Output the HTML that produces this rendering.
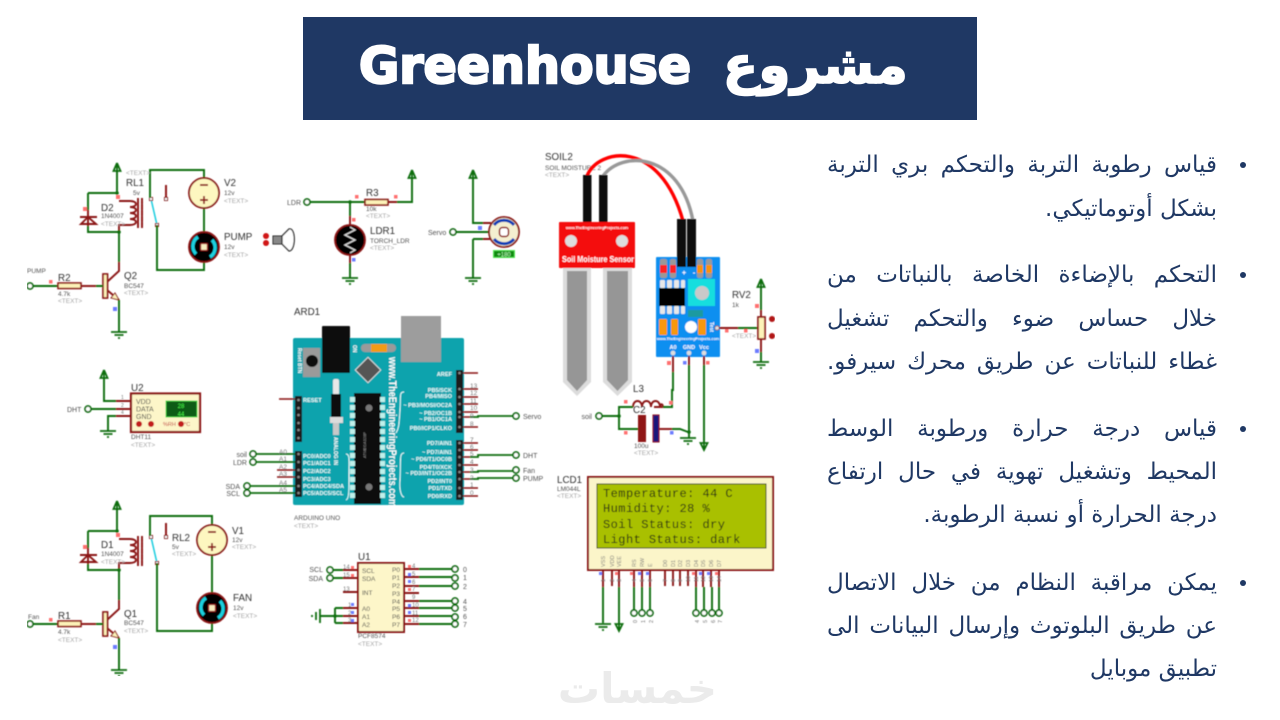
<!DOCTYPE html>
<html lang="ar"><head><meta charset="utf-8"><title>Greenhouse</title>
<style>
html,body{margin:0;padding:0;background:#fff;width:1280px;height:720px;overflow:hidden}
#w{position:relative;width:1280px;height:720px;overflow:hidden}
svg{position:absolute;left:0;top:0}
.l{position:absolute;left:827px;width:390px;height:30px;font:23px/30px "DejaVu Sans",sans-serif;color:#1f3864;direction:rtl;white-space:nowrap;text-align:justify;text-align-last:justify}
.e{text-align:right;text-align-last:right}
.b{position:absolute;left:1240px;width:6px;height:6px;border-radius:3px;background:#1f3864}
text{font-family:"Liberation Sans",sans-serif}
.g{stroke:#0b6e10;stroke-width:1.9;fill:none}
.r{stroke:#8b1414;stroke-width:1.9;fill:none}
.t12{font-size:9.8px;fill:#333}
.t7{font-size:6.5px;fill:#555}
.tx{font-size:6.5px;fill:#a5a5a5}
.gr{font-size:7px;fill:#555}
.w{font-size:5.6px;font-weight:bold;fill:#eafcfc}
.n{font-size:6.5px;fill:#777}
</style></head><body><div id="w">
<svg width="1280" height="720" viewBox="0 0 1280 720" xmlns="http://www.w3.org/2000/svg">
<defs>
<filter id="bl" x="0" y="0" width="100%" height="100%"><feGaussianBlur stdDeviation="0.45"/></filter>
<g id="gnd"><path d="M-8 0H8M-4.5 3H4.5M-1 6H1" stroke="#0b6e10" stroke-width="1.800" fill="none"/></g>
<path id="up" d="M0 8V0L-3.5 8H3.5L0 0" stroke="#0b6e10" stroke-width="1.800" fill="none"/>
<circle id="tm" r="3" fill="#fff" stroke="#0b6e10" stroke-width="1.700"/>
<g id="res"><rect x="0" y="0" width="23" height="5.5" fill="#fdf3b8" stroke="#8b1414" stroke-width="1.600"/></g>
<g id="relay">
<path class="g" d="M117 170V193M88 193H117M88 193V210M88 226V232H119V262"/>
<path class="r" d="M88 210V226M80 217H97M88 217L81 224H96Z" fill="#fdf3b8"/>
<path class="r" d="M119 201H130M119 232V225H130M130 201c8 0 8 6 0 6c8 0 8 6 0 6c8 0 8 6 0 6c8 0 8 6 0 6M138 198V228M142 198V228"/>
<rect x="116" y="195" width="4" height="4" fill="#ff7070"/><rect x="83" y="207" width="4" height="4" fill="#ff7070"/>
<circle cx="117" cy="193" r="1.800" fill="#0b6e10"/><circle cx="119" cy="232" r="1.800" fill="#0b6e10"/>
<path d="M151 199L157 225" stroke="#22cfe0" stroke-width="1.600"/>
<path class="r" d="M166 197V185"/>
<rect x="149.500" y="197.500" width="3" height="3" fill="#fff" stroke="#8b1414"/><rect x="164.500" y="197.500" width="3" height="3" fill="#fff" stroke="#8b1414"/><rect x="155.500" y="223.500" width="3" height="3" fill="#fff" stroke="#8b1414"/>
<path class="r" d="M119 262V271L107 282M107 290L119 300"/>
<path d="M119 300L111 298L115 293Z" fill="#fdf3b8" stroke="#8b1414"/>
<rect x="103" y="274" width="4.500" height="24" fill="#fdf3b8" stroke="#8b1414" stroke-width="1.700"/>
<path class="g" d="M33 286H58M119 300V332M96 286H103"/>
<path class="r" d="M81 286H96"/>
<use href="#tm" x="30" y="286"/>
<use href="#res" x="58" y="283"/>
<rect x="49" y="280" width="3.500" height="3.500" fill="#ff7070"/>
<rect x="113" y="307" width="4" height="4" fill="#6c7cff"/>
<use href="#gnd" x="119" y="332"/>
</g>
<g id="mot"><circle r="15" fill="#000" stroke="#8b1414" stroke-width="1.800"/><path d="M-6 -10A11 11 0 0 0 -8 7M6 10A11 11 0 0 0 8 -7" stroke="#1fd0df" stroke-width="3.400" fill="none"/><rect x="-3.500" y="-3.500" width="7" height="7" rx="1" fill="#f7eec0" stroke="#8b1414" stroke-width="1.300"/></g>
<g id="bat"><circle r="15" fill="#fdf7c0" stroke="#8b1414" stroke-width="1.800"/><path d="M-4 -8H4M-4 7H4M0 3V11" stroke="#8b1414" stroke-width="1.700"/></g>
</defs>

<rect x="303" y="17" width="674" height="103" fill="#1f3864"/>
<text x="359" y="83" font-size="50" textLength="332" lengthAdjust="spacingAndGlyphs" style="font-family:'DejaVu Sans',sans-serif;font-weight:bold" fill="#fff" stroke="#fff" stroke-width="2.400">Greenhouse</text>
<text x="908" y="83" font-size="52" direction="rtl" style="font-family:'DejaVu Sans',sans-serif;font-weight:bold" fill="#fff" stroke="#fff" stroke-width="1.500">مشروع</text>
<text x="717" y="703" font-size="42" direction="rtl" style="font-family:'DejaVu Sans',sans-serif;font-weight:bold" fill="#ebebeb">خمسات</text>

<g filter="url(#bl)">
<!-- relay group 1 -->
<use href="#relay"/>
<use href="#up" x="117" y="163"/>
<path class="g" d="M150 198V170H204V178M204 208V232M157 225V270H204V262"/>
<use href="#bat" x="204" y="193"/><use href="#mot" x="204" y="247"/>
<text x="126" y="175" class="tx">&lt;TEXT&gt;</text>
<text x="126" y="186" class="t12">RL1</text><text x="133" y="195" class="t7">5v</text>
<text x="101" y="211" class="t12">D2</text><text x="101" y="218" class="t7">1N4007</text><text x="101" y="226" class="tx">&lt;TEXT&gt;</text>
<text x="224" y="186" class="t12">V2</text><text x="224" y="195" class="t7">12v</text><text x="224" y="203" class="tx">&lt;TEXT&gt;</text>
<text x="224" y="240" class="t12">PUMP</text><text x="224" y="249" class="t7">12v</text><text x="224" y="257" class="tx">&lt;TEXT&gt;</text>
<text x="27" y="273" class="t7">PUMP</text>
<text x="58" y="281" class="t12">R2</text><text x="58" y="296" class="t7">4.7k</text><text x="58" y="303" class="tx">&lt;TEXT&gt;</text>
<text x="124" y="279" class="t12">Q2</text><text x="124" y="288" class="t7">BC547</text><text x="124" y="295" class="tx">&lt;TEXT&gt;</text>

<!-- speaker -->
<circle cx="266" cy="236" r="3" fill="#d01818"/><circle cx="266" cy="243" r="3" fill="#d01818"/>
<rect x="273" y="236" width="9" height="8" fill="#888" stroke="#222"/>
<path d="M282 236L289 229C296 227 296 251 289 251L282 244Z" fill="#fff" stroke="#222" stroke-width="1.300"/>

<!-- LDR -->
<use href="#tm" x="307" y="202"/>
<path class="g" d="M310 202H365M397 202H412V178M350 202V216M350 263V278"/>
<path class="r" d="M388 202H397M350 216V225M350 255V263"/>
<use href="#res" x="365" y="199.500"/>
<use href="#up" x="412" y="170"/>
<circle cx="350" cy="202" r="1.800" fill="#0b6e10"/>
<rect x="355" y="195" width="3.500" height="3.500" fill="#ff7070"/><rect x="394" y="195" width="3.500" height="3.500" fill="#ff7070"/><rect x="352" y="218" width="3.500" height="3.500" fill="#ff7070"/><rect x="352" y="258" width="3.500" height="3.500" fill="#6c7cff"/>
<circle cx="350" cy="240" r="15" fill="#000" stroke="#8b1414" stroke-width="1.800"/>
<path d="M350 227L355 230L345 235L355 240L345 245L355 250L350 253" stroke="#ddd" stroke-width="1.300" fill="none"/>
<use href="#gnd" x="350" y="278"/>
<text x="287" y="205" class="gr" >LDR</text>
<text x="366" y="196" class="t12">R3</text><text x="366" y="211" class="t7">10k</text><text x="366" y="218" class="tx">&lt;TEXT&gt;</text>
<text x="370" y="234" class="t12">LDR1</text><text x="370" y="243" class="t7">TORCH_LDR</text><text x="370" y="250" class="tx">&lt;TEXT&gt;</text>

<!-- Servo -->
<use href="#up" x="473" y="170"/><use href="#tm" x="453" y="232"/>
<path class="g" d="M473 178V223H483M456 232H490M473 239V278M473 239H483"/>
<path class="r" d="M483 223H491M483 239H491"/>
<rect x="478" y="226" width="4" height="4" fill="#6c7cff"/>
<circle cx="504" cy="232" r="15" fill="#f4efd0" stroke="#8b1414" stroke-width="1.800"/>
<path d="M494 225A13 13 0 0 1 514 225M494 239A13 13 0 0 0 514 239" stroke="#0b3eb5" stroke-width="3" fill="none"/>
<rect x="499.500" y="227.500" width="9" height="9" rx="3" fill="#fff" stroke="#8b1414" stroke-width="1.500"/>
<rect x="493.500" y="250.500" width="21" height="7" fill="#118c11" stroke="#55e855"/>
<text x="504" y="256.500" font-size="6" text-anchor="middle" fill="#bfffbf">+180</text>
<use href="#gnd" x="473" y="278"/>
<text x="428" y="235" class="gr">Servo</text>

<!-- DHT -->
<use href="#up" x="104" y="370"/><use href="#tm" x="88" y="409"/>
<path class="g" d="M104 378V401H116M91 409H116M108 431V416H116"/>
<path class="r" d="M116 401H131M116 409H131M116 416H131"/>
<use href="#gnd" x="108" y="431"/>
<rect x="131" y="393.500" width="69" height="38.500" fill="#fdf6c9" stroke="#8b1414" stroke-width="2.200"/>
<rect x="166" y="401" width="31" height="16" fill="#095c16" stroke="#46d846"/>
<text x="181" y="408" font-size="6" text-anchor="middle" fill="#49ff49">28</text><text x="181" y="416" font-size="6" text-anchor="middle" fill="#49ff49">44</text>
<text x="136" y="404" class="gr" style="fill:#444">VDD</text><text x="136" y="411.500" class="gr" style="fill:#444">DATA</text><text x="136" y="419" class="gr" style="fill:#444">GND</text>
<circle cx="139" cy="424" r="3" fill="#c21a1a"/><circle cx="151" cy="424" r="3" fill="#c21a1a"/><circle cx="181" cy="424" r="3" fill="#c21a1a"/>
<text x="163" y="426" font-size="5.500" fill="#c04040">%RH</text><text x="184" y="426" font-size="5.500" fill="#c04040">°C</text>
<text x="131" y="391" class="t12">U2</text><text x="131" y="439" class="t7">DHT11</text><text x="131" y="447" class="tx">&lt;TEXT&gt;</text>
<text x="67" y="412" class="gr">DHT</text>
<text x="121" y="399" font-size="5" fill="#777">1</text><text x="121" y="407" font-size="5" fill="#777">2</text><text x="121" y="414" font-size="5" fill="#777">4</text>

<!-- Arduino -->
<text x="294" y="315" class="t12">ARD1</text>
<rect x="293" y="338" width="171" height="167" rx="2" fill="#0aa3ad"/>
<rect x="401" y="316" width="40" height="46" fill="#9d9d9d"/>
<rect x="322" y="326" width="28" height="47" rx="1" fill="#0c0c0c"/>
<rect x="303" y="348" width="17" height="29" fill="#9a9a9a"/><circle cx="312" cy="361" r="6" fill="#111"/>
<rect x="361" y="344" width="35" height="8" rx="4" fill="#9a9a9a"/><rect x="371" y="344" width="16" height="8" fill="#f29b16"/>
<rect x="359" y="361" width="18" height="18" transform="rotate(45 368 370)" fill="#555" stroke="#ddd" stroke-width="1"/>
<rect x="333" y="379" width="6" height="16" rx="2" fill="#e8e8e8"/><rect x="331" y="394" width="10" height="23" fill="#111"/><rect x="330" y="417" width="13" height="6" fill="#dcdcdc"/><rect x="333" y="423" width="6" height="12" fill="#c8c8c8"/>
<rect x="354" y="393" width="27" height="111" fill="#0a0a0a"/>
<g fill="#bff0ea">
<path d="M350 397h5v5h-5zM350 405h5v5h-5zM350 413h5v5h-5zM350 421h5v5h-5zM350 429h5v5h-5zM350 437h5v5h-5zM350 445h5v5h-5zM350 453h5v5h-5zM350 461h5v5h-5zM350 469h5v5h-5zM350 477h5v5h-5zM350 485h5v5h-5zM350 493h5v5h-5z"/>
<path d="M380 397h5v5h-5zM380 405h5v5h-5zM380 413h5v5h-5zM380 421h5v5h-5zM380 429h5v5h-5zM380 437h5v5h-5zM380 445h5v5h-5zM380 453h5v5h-5zM380 461h5v5h-5zM380 469h5v5h-5zM380 477h5v5h-5zM380 485h5v5h-5zM380 493h5v5h-5z"/>
</g>
<circle cx="369" cy="408" r="3.500" fill="#777"/><circle cx="369" cy="487" r="3.500" fill="#777"/>
<text transform="translate(366 445) rotate(-90)" font-size="4" fill="#999" text-anchor="middle">ATMEGA328P</text>
<text transform="translate(389 357) rotate(90)" font-size="11" font-weight="bold" fill="#fff" textLength="150" lengthAdjust="spacingAndGlyphs">www.TheEngineeringProjects.com</text>
<text transform="translate(334 437) rotate(90)" font-size="5" font-weight="bold" fill="#fff">ANALOG IN</text>
<text transform="translate(298 348) rotate(90)" font-size="5" font-weight="bold" fill="#fff">Reset BTN</text>
<text transform="translate(353 345) rotate(90)" font-size="5" font-weight="bold" fill="#fff">ON</text>
<path d="M404 392C399 392 401 396 400 410C399 425 399 428 396 433M404 453C399 453 401 460 400 480C399 492 402 497 404 497M346 454C350 454 349 460 349 475C349 492 349 499 346 500" stroke="#eaffff" stroke-width="1" fill="none"/>
<g fill="#1c1c1c"><rect x="295" y="396" width="7" height="46"/><rect x="295" y="451" width="7" height="46"/><rect x="456" y="370" width="7" height="63"/><rect x="456" y="440" width="7" height="60"/></g>
<g stroke="#8b1414" stroke-width="1.500" fill="none">
<path d="M463 373H478M463 389H478M463 397H478M463 404H478M463 412H478M463 427H478M463 443H478M463 450H478M463 465H478M463 488H478M463 496H478M463 417H470M463 457H470M463 472H470M463 479H470M279 399H295M277 470H295M277 477H295"/>
</g>
<g stroke="#0b6e10" stroke-width="1.800" fill="none">
<path d="M470 417H478V416H516M470 457H478V455H516M470 472H478V471H516M470 479H478V478H516M256 454H295M256 462H295M250 486H295M250 493H295"/>
</g>
<g fill="#888"><circle cx="298.500" cy="400" r="1.300"/><circle cx="298.500" cy="408" r="1.300"/><circle cx="298.500" cy="415" r="1.300"/><circle cx="298.500" cy="423" r="1.300"/><circle cx="298.500" cy="430" r="1.300"/><circle cx="298.500" cy="438" r="1.300"/><circle cx="298.500" cy="454" r="1.300"/><circle cx="298.500" cy="462" r="1.300"/><circle cx="298.500" cy="470" r="1.300"/><circle cx="298.500" cy="477" r="1.300"/><circle cx="298.500" cy="486" r="1.300"/><circle cx="298.500" cy="493" r="1.300"/><circle cx="459.500" cy="373" r="1.300"/><circle cx="459.500" cy="389" r="1.300"/><circle cx="459.500" cy="397" r="1.300"/><circle cx="459.500" cy="404" r="1.300"/><circle cx="459.500" cy="412" r="1.300"/><circle cx="459.500" cy="417" r="1.300"/><circle cx="459.500" cy="427" r="1.300"/><circle cx="459.500" cy="443" r="1.300"/><circle cx="459.500" cy="450" r="1.300"/><circle cx="459.500" cy="457" r="1.300"/><circle cx="459.500" cy="465" r="1.300"/><circle cx="459.500" cy="472" r="1.300"/><circle cx="459.500" cy="479" r="1.300"/><circle cx="459.500" cy="488" r="1.300"/><circle cx="459.500" cy="496" r="1.300"/></g>
<g text-anchor="end">
<text x="452" y="376" class="w">AREF</text><text x="452" y="392" class="w">PB5/SCK</text><text x="452" y="398" class="w">PB4/MISO</text><text x="452" y="407" class="w">~ PB3/MOSI/OC2A</text><text x="452" y="415" class="w">~ PB2/OC1B</text><text x="452" y="421" class="w">~ PB1/OC1A</text><text x="452" y="430" class="w">PB0/ICP1/CLKO</text>
<text x="452" y="445" class="w">PD7/AIN1</text><text x="452" y="454" class="w">~ PD7/AIN1</text><text x="452" y="461" class="w">~ PD6/T1/OC0B</text><text x="452" y="469" class="w">PD4/T0/XCK</text><text x="452" y="475" class="w">~ PD3/INT1/OC2B</text><text x="452" y="483" class="w">PD2/INT0</text><text x="452" y="490" class="w">PD1/TXD</text><text x="452" y="498" class="w">PD0/RXD</text>
</g>
<text x="303" y="402" class="w">RESET</text><text x="303" y="458" class="w">PC0/ADC0</text><text x="303" y="465" class="w">PC1/ADC1</text><text x="303" y="473" class="w">PC2/ADC2</text><text x="303" y="481" class="w">PC3/ADC3</text><text x="303" y="488" class="w">PC4/ADC4/SDA</text><text x="303" y="495" class="w">PC5/ADC5/SCL</text>
<g><text x="470" y="388" class="n">13</text><text x="470" y="395" class="n">12</text><text x="470" y="403" class="n">11</text><text x="470" y="410" class="n">10</text><text x="470" y="418" class="n">9</text><text x="470" y="426" class="n">8</text><text x="470" y="442" class="n">7</text><text x="470" y="449" class="n">6</text><text x="470" y="456" class="n">5</text><text x="470" y="464" class="n">4</text><text x="470" y="472" class="n">3</text><text x="470" y="480" class="n">2</text><text x="470" y="487" class="n">1</text><text x="470" y="495" class="n">0</text>
<text x="279" y="454" class="n">A0</text><text x="279" y="461" class="n">A1</text><text x="279" y="469" class="n">A2</text><text x="279" y="476" class="n">A3</text><text x="279" y="485" class="n">A4</text><text x="279" y="492" class="n">A5</text></g>
<use href="#tm" x="253" y="454"/><use href="#tm" x="253" y="462"/><use href="#tm" x="247" y="486"/><use href="#tm" x="247" y="493"/>
<use href="#tm" x="516" y="416"/><use href="#tm" x="516" y="455"/><use href="#tm" x="516" y="470"/><use href="#tm" x="516" y="478"/>
<text x="247" y="457" class="gr" text-anchor="end">soil</text><text x="247" y="465" class="gr" text-anchor="end">LDR</text><text x="240" y="489" class="gr" text-anchor="end">SDA</text><text x="240" y="496" class="gr" text-anchor="end">SCL</text>
<text x="523" y="419" class="gr">Servo</text><text x="523" y="458" class="gr">DHT</text><text x="523" y="473" class="gr">Fan</text><text x="523" y="481" class="gr">PUMP</text>
<text x="294" y="520" class="t7">ARDUINO UNO</text><text x="294" y="528" class="tx">&lt;TEXT&gt;</text>

<!-- Soil -->
<text x="545" y="160" class="t12">SOIL2</text><text x="545" y="170" class="t7">SOIL MOISTURE 2</text><text x="545" y="177" class="tx">&lt;TEXT&gt;</text>
<path d="M587 176C598 148 660 138 683 221" stroke="#f00" stroke-width="3.400" fill="none"/>
<path d="M603 176C622 150 680 152 693 221" stroke="#999" stroke-width="3.400" fill="none"/>
<rect x="583" y="175" width="8.500" height="48" fill="#0c0c0c"/><rect x="599" y="175" width="8.500" height="48" fill="#0c0c0c"/>
<path d="M563 268H591V382L577 396L563 382ZM603 268H632V382L617.500 396L603 382Z" fill="#dcdcdc"/>
<path d="M567 271H587V380L577 391L567 380ZM607 271H628V380L617.500 391L607 380Z" fill="#969696"/>
<rect x="559" y="222" width="76" height="46" rx="1" fill="#f40808"/>
<circle cx="571" cy="241" r="6" fill="#ddd"/><circle cx="622" cy="241" r="6" fill="#ddd"/>
<text x="597" y="229" font-size="3.800" fill="#fff" text-anchor="middle" font-weight="bold">www.TheEngineeringProjects.com</text>
<text x="562" y="262" font-size="8" font-weight="bold" fill="#fff" textLength="72" lengthAdjust="spacingAndGlyphs">Soil Moisture  Sensor</text>
<rect x="656" y="257" width="64" height="100" rx="1" fill="#0e8ff0"/>
<g fill="#999"><rect x="660" y="259" width="7" height="19" rx="2"/><rect x="670" y="259" width="6" height="19" rx="2"/><rect x="697" y="259" width="6" height="19" rx="2"/><rect x="706" y="259" width="6" height="19" rx="2"/></g>
<rect x="660" y="265" width="7" height="8" fill="#f22"/><rect x="670" y="265" width="6" height="8" fill="#f22"/><rect x="697" y="265" width="6" height="8" fill="#f7930e"/><rect x="706" y="265" width="6" height="8" fill="#f7930e"/>
<rect x="677" y="219" width="9" height="48" fill="#0c0c0c"/><rect x="687" y="219" width="9" height="48" fill="#0c0c0c"/>
<text x="684" y="275" font-size="7" font-weight="bold" fill="#fff" text-anchor="middle">+</text><text x="694" y="275" font-size="7" font-weight="bold" fill="#fff" text-anchor="middle">-</text>
<rect x="688" y="279" width="27" height="27" fill="#14dede"/><circle cx="702" cy="293" r="7" fill="#c9c9c9"/>
<rect x="659" y="288" width="26" height="18" fill="#050505"/>
<g fill="#e8e8e8"><rect x="660" y="280" width="5" height="8" rx="1"/><rect x="667" y="280" width="5" height="8" rx="1"/><rect x="674" y="280" width="5" height="8" rx="1"/><rect x="681" y="280" width="4" height="8" rx="1"/><rect x="660" y="306" width="5" height="8" rx="1"/><rect x="667" y="306" width="5" height="8" rx="1"/><rect x="674" y="306" width="5" height="8" rx="1"/><rect x="681" y="306" width="4" height="8" rx="1"/></g>
<rect x="688" y="310" width="15" height="7" fill="#1f9aa0"/>
<g fill="#f7980f"><rect x="659" y="319" width="8" height="16" rx="1"/><rect x="671" y="319" width="7" height="16" rx="1"/><rect x="698" y="319" width="8" height="16" rx="1"/></g>
<circle cx="691" cy="327" r="6" fill="#fff"/>
<text x="688" y="340" font-size="3.800" fill="#fff" text-anchor="middle" font-weight="bold">www.TheEngineeringProjects.com</text>
<text x="673" y="349" font-size="5.500" fill="#fff" text-anchor="middle" font-weight="bold">A0</text><text x="689" y="349" font-size="5.500" fill="#fff" text-anchor="middle" font-weight="bold">GND</text><text x="704" y="349" font-size="5.500" fill="#fff" text-anchor="middle" font-weight="bold">Vcc</text>
<text transform="translate(710 322) rotate(90)" font-size="5" font-weight="bold" fill="#fff">Test</text>
<circle cx="673" cy="353" r="2.400" fill="#ddd"/><circle cx="689" cy="353" r="2.400" fill="#ddd"/><circle cx="704" cy="353" r="2.400" fill="#ddd"/>
<path class="r" d="M673 356V372M689 356V365M704 356V365M663 407H654M717 328H738M757 328H760M761 310V317M761 339V352"/>
<path d="M633 407c0-8 9-8 9 0c0-8 9-8 9 0c0-8 9-8 9 0c1-5 3-2 3 0" class="r"/>
<path class="g" d="M673 372V390H672V407H663M689 365V438M704 365V443M633 407H619V429H638M602 416H619M738 328H757M761 287V310M761 352V362M672 429H680L688 432"/>
<path class="r" d="M659 429H672"/>
<circle cx="717" cy="328" r="2.200" fill="#ddd" stroke="#8b1414" stroke-width=".6"/>
<rect x="638" y="415" width="8" height="27" fill="#8f1515"/><rect x="653" y="415" width="6" height="27" fill="#16167a" stroke="#8b1414"/>
<use href="#tm" x="599" y="416"/><circle cx="619" cy="416" r="1.800" fill="#0b6e10"/><circle cx="689" cy="432" r="1.800" fill="#0b6e10"/>
<use href="#gnd" x="688" y="438"/>
<path d="M704 450V443L700.500 443L704 450L707.500 443H704" stroke="#0b6e10" stroke-width="1.800" fill="none"/>
<use href="#up" x="761" y="279"/>
<rect x="758" y="317" width="7" height="22" fill="#fdf3b8" stroke="#8b1414" stroke-width="1.700"/>
<circle cx="772" cy="319" r="3" fill="#b11414"/><circle cx="772" cy="336" r="3" fill="#b11414"/>
<use href="#gnd" x="761" y="362"/>
<rect x="755" y="304" width="4" height="4" fill="#ff7070"/><rect x="755" y="349" width="4" height="4" fill="#6c7cff"/><rect x="744" y="329" width="3.500" height="3.500" fill="#ff7070"/><rect x="725" y="329" width="3.500" height="3.500" fill="#ff7070"/><rect x="667" y="361" width="4" height="4" fill="#ff7070"/><rect x="683" y="361" width="3.500" height="3.500" fill="#6c7cff"/><rect x="706" y="361" width="3.500" height="3.500" fill="#ff7070"/><rect x="624" y="400" width="3.500" height="3.500" fill="#ff7070"/><rect x="669" y="401" width="3.500" height="3.500" fill="#ff7070"/><rect x="624" y="431" width="3.500" height="3.500" fill="#ff7070"/><rect x="670" y="431" width="3.500" height="3.500" fill="#6c7cff"/>
<text x="732" y="298" class="t12">RV2</text><text x="732" y="307" class="t7">1k</text><text x="732" y="338" class="tx">&lt;TEXT&gt;</text>
<text x="633" y="392" class="t12">L3</text><text x="633" y="413" class="t12">C2</text><text x="634" y="448" class="t7">100u</text><text x="634" y="455" class="tx">&lt;TEXT&gt;</text>
<text x="592" y="419" class="gr" text-anchor="end">soil</text>

<!-- LCD -->
<text x="557" y="483" class="t12">LCD1</text><text x="557" y="491" class="t7">LM044L</text><text x="557" y="498" class="tx">&lt;TEXT&gt;</text>
<rect x="588" y="477" width="185" height="93" fill="#fbf5c9" stroke="#8b1414" stroke-width="2"/>
<rect x="597" y="484" width="169" height="64" fill="#a9c000" stroke="#2d3a14" stroke-width="1"/>
<g fill="#22280c">
<text x="603" y="497" style="font-family:'Liberation Mono',monospace;font-size:12px;letter-spacing:.45px">Temperature: 44 C</text>
<text x="603" y="512" style="font-family:'Liberation Mono',monospace;font-size:12px;letter-spacing:.45px">Humidity: 28 %</text>
<text x="603" y="528" style="font-family:'Liberation Mono',monospace;font-size:12px;letter-spacing:.45px">Soil Status: dry</text>
<text x="603" y="543" style="font-family:'Liberation Mono',monospace;font-size:12px;letter-spacing:.45px">Light Status: dark</text>
</g>
<g font-size="5.500" fill="#777">
<text transform="translate(605 567) rotate(-90)">VSS</text><text transform="translate(614 567) rotate(-90)">VDD</text><text transform="translate(621 567) rotate(-90)">VEE</text><text transform="translate(636 567) rotate(-90)">RS</text><text transform="translate(644 567) rotate(-90)">RW</text><text transform="translate(652 567) rotate(-90)">E</text><text transform="translate(667 567) rotate(-90)">D0</text><text transform="translate(675 567) rotate(-90)">D1</text><text transform="translate(682 567) rotate(-90)">D2</text><text transform="translate(690 567) rotate(-90)">D3</text><text transform="translate(698 567) rotate(-90)">D4</text><text transform="translate(705 567) rotate(-90)">D5</text><text transform="translate(713 567) rotate(-90)">D6</text><text transform="translate(721 567) rotate(-90)">D7</text>
</g>
<path class="r" d="M603 570V587M612 570V586M619 570V587M634 570V587M642 570V587M650 570V587M665 570V586M673 570V586M680 570V586M688 570V586M696 570V587M703 570V587M711 570V587M719 570V587"/>
<path class="g" d="M603 587V623M619 587V624M634 587V610M642 587V610M650 587V610M696 587V610M704 587V610M712 587V610M719 587V610"/>
<g><use href="#tm" x="634" y="613"/><use href="#tm" x="642" y="613"/><use href="#tm" x="650" y="613"/><use href="#tm" x="696" y="613"/><use href="#tm" x="704" y="613"/><use href="#tm" x="712" y="613"/><use href="#tm" x="719" y="613"/></g>
<use href="#gnd" x="603" y="624"/>
<path d="M619 631V624L615.500 624L619 631L622.500 624H619" stroke="#0b6e10" stroke-width="1.800" fill="none"/>
<g font-size="5.500" fill="#777">
<text transform="translate(637 623) rotate(-90)">0</text><text transform="translate(645 623) rotate(-90)">1</text><text transform="translate(653 623) rotate(-90)">2</text><text transform="translate(699 623) rotate(-90)">4</text><text transform="translate(707 623) rotate(-90)">5</text><text transform="translate(715 623) rotate(-90)">6</text><text transform="translate(722 623) rotate(-90)">7</text>
<text transform="translate(605 582) rotate(-90)">1</text><text transform="translate(614 582) rotate(-90)">2</text><text transform="translate(621 582) rotate(-90)">3</text><text transform="translate(636 582) rotate(-90)">4</text><text transform="translate(644 582) rotate(-90)">5</text><text transform="translate(652 582) rotate(-90)">6</text><text transform="translate(667 582) rotate(-90)">7</text><text transform="translate(675 582) rotate(-90)">8</text><text transform="translate(682 582) rotate(-90)">9</text><text transform="translate(690 582) rotate(-90)">10</text><text transform="translate(698 582) rotate(-90)">11</text><text transform="translate(705 582) rotate(-90)">12</text><text transform="translate(713 582) rotate(-90)">13</text><text transform="translate(721 582) rotate(-90)">14</text>
</g>
<g fill="#ff7070"><rect x="615" y="572" width="3" height="3"/><rect x="630" y="572" width="3" height="3"/><rect x="692" y="572" width="3" height="3"/><rect x="715" y="572" width="3" height="3"/></g>
<g fill="#6c7cff"><rect x="599" y="572" width="3" height="3"/><rect x="638" y="572" width="3" height="3"/><rect x="646" y="572" width="3" height="3"/><rect x="699" y="572" width="3" height="3"/><rect x="707" y="572" width="3" height="3"/></g>

<!-- relay group 2 -->
<use href="#relay" y="338"/>
<use href="#up" x="117" y="501"/>
<path class="g" d="M150 536V516H212V525M212 555V593M157 563V631H212V623"/>
<use href="#bat" x="212" y="540"/><use href="#mot" x="212" y="608"/>
<text x="172" y="541" class="t12">RL2</text><text x="172" y="549" class="t7">5v</text><text x="172" y="556" class="tx">&lt;TEXT&gt;</text>
<text x="101" y="548" class="t12">D1</text><text x="101" y="556" class="t7">1N4007</text><text x="101" y="564" class="tx">&lt;TEXT&gt;</text>
<text x="232" y="534" class="t12">V1</text><text x="232" y="542" class="t7">12v</text><text x="232" y="549" class="tx">&lt;TEXT&gt;</text>
<text x="233" y="601" class="t12">FAN</text><text x="233" y="610" class="t7">12v</text><text x="233" y="618" class="tx">&lt;TEXT&gt;</text>
<text x="28" y="619" class="t7">Fan</text>
<text x="58" y="619" class="t12">R1</text><text x="58" y="634" class="t7">4.7k</text><text x="58" y="642" class="tx">&lt;TEXT&gt;</text>
<text x="124" y="617" class="t12">Q1</text><text x="124" y="625" class="t7">BC547</text><text x="124" y="633" class="tx">&lt;TEXT&gt;</text>

<!-- U1 -->
<path class="r" d="M343 570H358M343 578H358M343 592H358M343 608H358M343 616H358M343 623H358M404 569H419M404 577H419M404 586H419M404 593H419M404 601H419M404 608H419M404 616H419M404 624H419"/>
<path class="g" d="M333 570H343M333 578H343M335 608H343M335 616H343M335 623H343M335 608V623M320 616H335M419 569H452M419 577H452M419 586H452M419 601H452M419 608H452M419 616H452M419 624H452"/>
<path d="M320 609V623M316 612V620M312 615V617" stroke="#0b6e10" stroke-width="1.800" fill="none"/>
<circle cx="335" cy="616" r="1.800" fill="#0b6e10"/>
<rect x="358" y="563" width="46" height="69" fill="#fdf6c9" stroke="#8b1414" stroke-width="2"/>
<use href="#tm" x="330" y="570"/><use href="#tm" x="330" y="578"/>
<use href="#tm" x="455" y="569"/><use href="#tm" x="455" y="578"/><use href="#tm" x="455" y="586"/><use href="#tm" x="455" y="601"/><use href="#tm" x="455" y="608"/><use href="#tm" x="455" y="617"/><use href="#tm" x="455" y="624"/>
<g font-size="6.500" fill="#444">
<text x="362" y="573">SCL</text><text x="362" y="581">SDA</text><text x="362" y="595">INT</text><text x="362" y="611">A0</text><text x="362" y="619">A1</text><text x="362" y="627">A2</text>
<text x="392" y="572">P0</text><text x="392" y="580">P1</text><text x="392" y="588">P2</text><text x="392" y="596">P3</text><text x="392" y="604">P4</text><text x="392" y="611">P5</text><text x="392" y="619">P6</text><text x="392" y="627">P7</text>
</g>
<g font-size="6" fill="#777">
<text x="343" y="569">14</text><text x="343" y="577">15</text><text x="343" y="591">13</text><text x="348" y="607">1</text><text x="348" y="615">2</text><text x="348" y="622">3</text>
<text x="412" y="568">4</text><text x="412" y="576">5</text><text x="412" y="584">6</text><text x="412" y="591">7</text><text x="412" y="599">9</text><text x="412" y="607">10</text><text x="412" y="615">11</text><text x="412" y="622">12</text>
</g>
<text x="323" y="572" text-anchor="end" class="gr">SCL</text><text x="323" y="581" text-anchor="end" class="gr">SDA</text>
<text x="463" y="572" class="gr">0</text><text x="463" y="580" class="gr">1</text><text x="463" y="589" class="gr">2</text><text x="463" y="604" class="gr">4</text><text x="463" y="611" class="gr">5</text><text x="463" y="619" class="gr">6</text><text x="463" y="627" class="gr">7</text>
<text x="358" y="560" class="t12">U1</text>
<text x="358" y="638" class="t7">PCF8574</text><text x="358" y="646" class="tx">&lt;TEXT&gt;</text>
<g fill="#ff7070"><rect x="351" y="566" width="3" height="3"/><rect x="351" y="574" width="3" height="3"/><rect x="408" y="565" width="3" height="3"/><rect x="408" y="588" width="3" height="3"/><rect x="408" y="619" width="3" height="3"/></g>
<g fill="#6c7cff"><rect x="351" y="603" width="3" height="3"/><rect x="351" y="611" width="3" height="3"/><rect x="351" y="619" width="3" height="3"/><rect x="408" y="573" width="3" height="3"/><rect x="408" y="580" width="3" height="3"/><rect x="408" y="604" width="3" height="3"/><rect x="408" y="611" width="3" height="3"/></g>
</g>
</svg>

<div class="b" style="top:162px"></div>
<div class="l" style="top:150px">قياس رطوبة التربة والتحكم بري التربة</div>
<div class="l e" style="top:194px">بشكل أوتوماتيكي.</div>
<div class="b" style="top:272px"></div>
<div class="l" style="top:260px">التحكم بالإضاءة الخاصة بالنباتات من</div>
<div class="l" style="top:304px">خلال حساس ضوء والتحكم تشغيل</div>
<div class="l" style="top:347px">غطاء للنباتات عن طريق محرك سيرفو.</div>
<div class="b" style="top:426px"></div>
<div class="l" style="top:414px">قياس درجة حرارة ورطوبة الوسط</div>
<div class="l" style="top:457px">المحيط وتشغيل تهوية في حال ارتفاع</div>
<div class="l e" style="top:500px">درجة الحرارة أو نسبة الرطوبة.</div>
<div class="b" style="top:580px"></div>
<div class="l" style="top:568px">يمكن مراقبة النظام من خلال الاتصال</div>
<div class="l" style="top:611px">عن طريق البلوتوث وإرسال البيانات الى</div>
<div class="l e" style="top:654px">تطبيق موبايل</div>
</div></body></html>
